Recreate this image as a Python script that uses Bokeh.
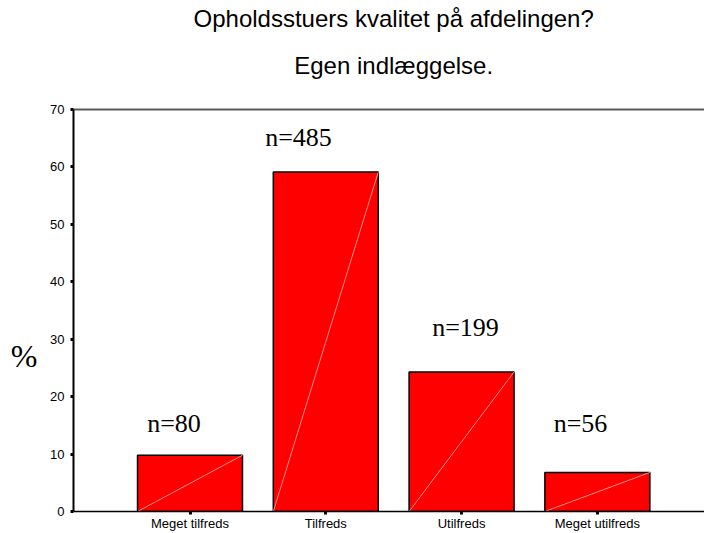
from bokeh.plotting import figure
from bokeh.models import Range1d, FixedTicker, LinearAxis, Label
from bokeh.embed import file_html
from bokeh.resources import INLINE

# ---- data ----
categories = ["Meget tilfreds", "Tilfreds", "Utilfreds", "Meget utilfreds"]
percent = [9.8, 59.1, 24.3, 6.8]
counts = [80, 485, 199, 56]
y_ticks = [0, 10, 20, 30, 40, 50, 60, 70]
title_lines = ["Opholdsstuers kvalitet på afdelingen?", "Egen indlæggelse."]
y_label = "%"

# ---- layout ----
xs = [i + 1 for i in range(len(categories))]
bar_w = 0.773
label_dx = [-0.118, -0.201, 0.029, -0.124]
label_dy = [5.5, 6.1, 7.7, 8.5]
y_label_pos = 27
title_pos = 2.5

p = figure(width=704, height=533, output_backend="svg", toolbar_location=None,
           x_range=Range1d(0.142, 4.789), y_range=Range1d(0, 70),
           min_border_left=73, min_border_right=0, min_border_top=109,
           min_border_bottom=21)
p.outline_line_color = None
p.grid.grid_line_color = None
p.background_fill_color = "white"

p.vbar(x=xs, top=percent, width=bar_w, fill_color="#ff0000",
       line_color="#000000", line_width=1.5)
p.segment(x0=[x - bar_w / 2 for x in xs], y0=[0] * len(xs),
          x1=[x + bar_w / 2 for x in xs], y1=percent,
          line_color="#ff8f8f", line_width=1)

# axes
xa = p.xaxis[0]
xa.ticker = FixedTicker(ticks=xs)
xa.major_label_overrides = {x: c for x, c in zip(xs, categories)}
xa.axis_line_color = "black"
xa.axis_line_width = 1.5
xa.major_tick_line_color = "black"
xa.major_tick_line_width = 3
xa.major_tick_in = 0
xa.major_tick_out = 3
xa.minor_tick_line_color = None
xa.major_label_standoff = 1
xa.major_label_text_font = "Liberation Sans"
xa.major_label_text_font_size = "13px"
xa.major_label_text_color = "black"

ya = p.yaxis[0]
ya.ticker = FixedTicker(ticks=y_ticks)
ya.axis_line_color = "black"
ya.axis_line_width = 2
ya.major_tick_line_color = "black"
ya.major_tick_line_width = 3
ya.major_tick_in = 0
ya.major_tick_out = 3
ya.minor_tick_line_color = None
ya.major_label_standoff = 6
ya.major_label_text_font = "Liberation Sans"
ya.major_label_text_font_size = "13px"
ya.major_label_text_color = "black"

# "%" label as a second left axis carrying a single labelled position
pct_ax = LinearAxis(ticker=FixedTicker(ticks=[y_label_pos]),
                    major_label_overrides={y_label_pos: y_label},
                    axis_line_color=None, major_tick_line_color=None,
                    minor_tick_line_color=None, major_tick_out=0,
                    major_label_standoff=10,
                    major_label_text_font="Liberation Serif",
                    major_label_text_font_size="32px",
                    major_label_text_color="black")
p.add_layout(pct_ax, "left")

# top frame line, carrying the second title line
top_ax = LinearAxis(ticker=FixedTicker(ticks=[title_pos]),
                    major_label_overrides={title_pos: title_lines[1]},
                    axis_line_color="#5a5a5a", axis_line_width=2,
                    major_tick_line_color=None, major_tick_out=0, major_tick_in=0,
                    minor_tick_line_color=None, major_label_standoff=31,
                    major_label_text_font="Liberation Sans",
                    major_label_text_font_size="24px",
                    major_label_text_color="black")
p.add_layout(top_ax, "above")

# first title line
title_ax = LinearAxis(ticker=FixedTicker(ticks=[title_pos]),
                      major_label_overrides={title_pos: title_lines[0]},
                      axis_line_color=None, major_tick_line_color=None,
                      major_tick_out=0, major_tick_in=0,
                      minor_tick_line_color=None, major_label_standoff=17,
                      major_label_text_font="Liberation Sans",
                      major_label_text_font_size="24px",
                      major_label_text_color="black")
p.add_layout(title_ax, "above")

# n labels
for x, v, c, dx, dy in zip(xs, percent, counts, label_dx, label_dy):
    p.add_layout(Label(x=x + dx, y=v + dy, text=f"n={c}", text_font="Liberation Serif",
                       text_font_size="26px", text_align="center",
                       text_baseline="alphabetic", text_color="black"))

open("out.html", "w").write(file_html(p, INLINE))
